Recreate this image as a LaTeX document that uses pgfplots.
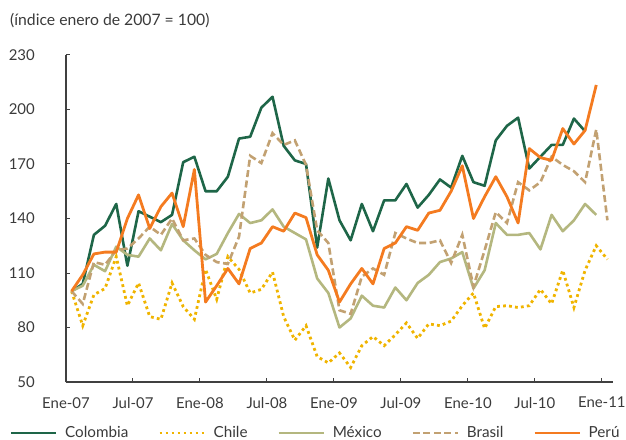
\documentclass[border=0pt]{standalone}
\usepackage{fontspec}
\setmainfont{Lato}
\usepackage{pgfplots}
\pgfplotsset{compat=1.18}
\definecolor{cCol}{HTML}{1E6648}
\definecolor{cChi}{HTML}{F0B400}
\definecolor{cMex}{HTML}{B4B77F}
\definecolor{cBra}{HTML}{C2A172}
\definecolor{cPer}{HTML}{F47B20}
\definecolor{axgray}{HTML}{404040}
\definecolor{txgray}{HTML}{3A3A3A}
\begin{document}
\fontsize{15}{18}\selectfont
\begin{tikzpicture}
\path[use as bounding box] (-66bp,-58bp) rectangle (560bp,382bp);
\node[anchor=base west, text=txgray, inner sep=0pt, font=\fontsize{15.8}{18}\selectfont] at (-56bp,356bp) {(índice enero de 2007 = 100)};
\begin{axis}[
  scale only axis, width=547bp, height=327bp,
  xmin=-0.5, xmax=48.5, ymin=50, ymax=230,
  ytick={50,80,...,230},
  xtick={-0.5,5.5,...,47.5},
  xticklabels={Ene-07,Jul-07,Ene-08,Jul-08,Ene-09,Jul-09,Ene-10,Jul-10,Ene-11},
  axis x line*=bottom, axis y line*=left,
  axis line style={draw=axgray, line width=1.1bp},
  tick style={draw=axgray, line width=1bp},
  tick align=inside, major tick length=4bp,
  /pgf/number format/assume math mode=true,
  tick label style={text=txgray, font=\fontsize{15}{18}\selectfont},
  yticklabel style={xshift=-26bp},
  xticklabel style={yshift=-10bp},
  clip=false,
  legend style={draw=none, fill=none, at={(-0.1024,-0.156)}, anchor=west,
    legend columns=5, inner sep=0pt, outer sep=0pt,
    nodes={inner xsep=0pt, inner ysep=2pt},
    /tikz/every odd column/.append style={column sep=8bp},
    /tikz/every even column/.append style={column sep=30bp},
    font=\fontsize{15.3}{18}\selectfont, text=txgray},
  legend image code/.code={\draw[#1, line width=2.2bp] (0bp,0bp) -- (45bp,0bp);},
]
\addplot[cCol, line width=2.6bp, line join=round] coordinates {
(0,100)(1,104)(2,131)(3,136)(4,148)(5,114)(6,144)(7,141)(8,138)(9,142)
(10,171)(11,174)(12,155)(13,155)(14,163)(15,184)(16,185)(17,201)(18,207)(19,180)
(20,172)(21,170)(22,124)(23,162)(24,139)(25,128)(26,148)(27,133)(28,150)(29,150)
(30,159)(31,146)(32,153)(33,161.5)(34,157)(35,174.5)(36,160)(37,158)(38,183)(39,191)
(40,195.5)(41,167.5)(42,174)(43,180.5)(44,180.5)(45,195)(46,188)};
\addlegendentry{Colombia}
\addplot[cChi, line width=2.8bp, dash pattern=on 2.8bp off 3.2bp] coordinates {
(0,100)(1,81)(2,98)(3,101.5)(4,119)(5,92)(6,104.5)(7,86)(8,84.5)(9,104.5)
(10,91.5)(11,84.5)(12,112)(13,95.5)(14,119)(15,112)(16,99)(17,101)(18,110.5)(19,86)
(20,73)(21,81)(22,64)(23,60.5)(24,66)(25,58)(26,70)(27,75)(28,70)(29,76)
(30,82.5)(31,74)(32,82)(33,81)(34,83.5)(35,92)(36,99)(37,79.5)(38,91.5)(39,92)
(40,91)(41,92)(42,101)(43,93)(44,111.5)(45,91)(46,111.5)(47,125)(48,117.5)};
\addlegendentry{Chile}
\addplot[cMex, line width=2.6bp, line join=round] coordinates {
(0,100)(1,103)(2,114.5)(3,111)(4,124.5)(5,120)(6,119)(7,129)(8,122.5)(9,137)
(10,128)(11,122.5)(12,117.5)(13,120.5)(14,132)(15,142.5)(16,137.5)(17,139)(18,145)(19,135.5)
(20,132)(21,128.5)(22,107)(23,99)(24,80)(25,85)(26,97.5)(27,92)(28,91)(29,102)
(30,95)(31,104.5)(32,109)(33,116)(34,118)(35,121.5)(36,101.5)(37,111.5)(38,137.5)(39,131)
(40,131)(41,132)(42,123)(43,142)(44,133)(45,139)(46,148)(47,142)};
\addlegendentry{México}
\addplot[cBra, line width=2.6bp, dash pattern=on 7bp off 3.5bp] coordinates {
(0,100)(1,93)(2,116)(3,114.5)(4,122.5)(5,123.5)(6,129)(7,135.5)(8,131)(9,140)
(10,128)(11,129)(12,120)(13,116)(14,115)(15,130)(16,174.5)(17,170.5)(18,187)(19,180.5)
(20,183)(21,169.5)(22,133.5)(23,126.5)(24,89.5)(25,87.5)(26,108)(27,112.5)(28,109)(29,132)
(30,129)(31,126.5)(32,126.5)(33,128)(34,115.5)(35,131)(36,102.5)(37,122.5)(38,143.5)(39,137.5)
(40,160)(41,155.5)(42,160)(43,174)(44,169.5)(45,166)(46,160)(47,189)(48,139)};
\addlegendentry{Brasil}
\addplot[cPer, line width=2.8bp, line join=round] coordinates {
(0,100)(1,109)(2,120.5)(3,121.5)(4,121.5)(5,140)(6,153)(7,134.5)(8,146.5)(9,154)
(10,135.5)(11,167)(12,94)(13,103)(14,112.5)(15,104)(16,123.5)(17,126.5)(18,135.5)(19,133)
(20,143)(21,140.5)(22,120)(23,111.5)(24,94)(25,104)(26,112.5)(27,104)(28,123.5)(29,126.5)
(30,135.5)(31,133.5)(32,143)(33,144.5)(34,155)(35,169)(36,140)(37,152)(38,163)(39,152)
(40,137.5)(41,178.5)(42,173.5)(43,172)(44,189.5)(45,181)(46,188.5)(47,213.5)};
\addlegendentry{Perú}
\end{axis}
\end{tikzpicture}
\end{document}
